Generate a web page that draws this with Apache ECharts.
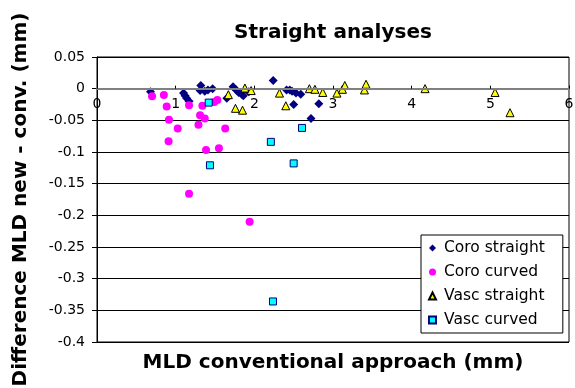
<!DOCTYPE html>
<html><head><meta charset="utf-8">
<script src="https://cdn.jsdelivr.net/npm/echarts@6/dist/echarts.min.js"></script>
<style>html,body{margin:0;padding:0;background:#fff}#c{width:575px;height:388px}</style>
</head><body><div id="c"></div>
<script>
const chartTitle = 'Straight analyses';
const xAxisName = 'MLD conventional approach (mm)';
const yAxisName = 'Difference MLD new - conv. (mm)';
const seriesNames = ['Coro straight', 'Coro curved', 'Vasc straight', 'Vasc curved'];
const xTickInfo = [0, 6, 1];        // min, max, interval
const yTickInfo = [-0.4, 0.05, 0.05];

const coroStraight = [
  [0.68, -0.005], [1.10, -0.007], [1.12, -0.011], [1.14, -0.015], [1.17, -0.020],
  [1.32, 0.005], [1.31, -0.003], [1.37, -0.004], [1.41, -0.002], [1.47, 0.000],
  [1.65, -0.015], [1.73, 0.003], [1.77, -0.002], [1.80, -0.006], [1.84, -0.009], [1.86, -0.011],
  [1.93, -0.005], [2.24, 0.013],
  [2.41, -0.002], [2.45, -0.002], [2.48, -0.004], [2.53, -0.007], [2.59, -0.009],
  [2.50, -0.025], [2.82, -0.024], [2.72, -0.047]
];
const coroCurved = [
  [0.70, -0.012], [0.85, -0.010], [0.886, -0.028], [0.915, -0.049], [1.026, -0.063],
  [0.91, -0.083], [1.17, -0.026], [1.34, -0.027], [1.49, -0.021], [1.53, -0.018],
  [1.31, -0.042], [1.37, -0.047], [1.29, -0.057], [1.63, -0.063],
  [1.386, -0.097], [1.55, -0.094], [1.17, -0.166], [1.94, -0.210]
];
const vascStraight = [
  [1.67, -0.0095], [1.76, -0.031], [1.85, -0.034], [1.88, 0.001], [1.96, -0.003],
  [2.32, -0.007], [2.40, -0.027], [2.70, 0.000], [2.77, -0.001], [2.87, -0.006],
  [3.05, -0.007], [3.12, -0.001], [3.15, 0.005], [3.40, -0.002], [3.42, 0.007],
  [4.17, 0.000], [5.06, -0.006], [5.25, -0.038]
];
const vascCurved = [
  [1.42, -0.022], [1.436, -0.121], [2.21, -0.084], [2.50, -0.118], [2.606, -0.062], [2.237, -0.336]
];

const FF = 'DejaVu Sans';
const chart = echarts.init(document.getElementById('c'), null, {renderer: 'canvas'});
const mk = (name, data, symbol, size, color, border, bw) => ({
  name, type: 'scatter', data, symbol, symbolSize: size,
  itemStyle: {color, borderColor: border, borderWidth: bw, opacity: 1},
  emphasis: {disabled: true}
});
chart.setOption({
  animation: false,
  backgroundColor: '#fff',
  graphic: [
    {type: 'text', x: 333, y: 33, style: {text: chartTitle, fontFamily: FF, fontSize: 20, fontWeight: 'bold', fill: '#000', align: 'center', verticalAlign: 'middle'}},
    {type: 'text', x: 333, y: 363, style: {text: xAxisName, fontFamily: FF, fontSize: 20, fontWeight: 'bold', fill: '#000', align: 'center', verticalAlign: 'middle'}}
  ],
  grid: {left: 97, right: 6, top: 57, bottom: 46, show: true, borderColor: '#000', borderWidth: 1,
    backgroundColor: 'transparent', containLabel: false, outerBoundsMode: 'none'},
  legend: {
    orient: 'vertical', left: 421, top: 235, padding: [5, 18, 5, 7],
    itemWidth: 7, itemHeight: 7, itemGap: 8,
    backgroundColor: '#fff', borderColor: '#000', borderWidth: 1,
    textStyle: {fontFamily: FF, fontSize: 15.5, color: '#000', lineHeight: 14, padding: [0, 0, 0, 3]},
    data: seriesNames
  },
  xAxis: {
    type: 'value', min: xTickInfo[0], max: xTickInfo[1], interval: xTickInfo[2],
    offset: -253.33, z: 5,
    axisLine: {onZero: false, lineStyle: {color: '#808080', width: 2}},
    axisTick: {show: true, inside: true, length: 3, lineStyle: {color: '#000'}},
    axisLabel: {fontFamily: FF, fontSize: 14, color: '#000', margin: 9},
    splitLine: {show: false}
  },
  yAxis: {
    type: 'value', min: yTickInfo[0], max: yTickInfo[1], interval: yTickInfo[2],
    name: yAxisName, nameLocation: 'middle', nameRotate: 90, nameGap: 66,
    nameTextStyle: {fontFamily: FF, fontSize: 20, fontWeight: 'bold', color: '#000'},
    axisLine: {show: true, onZero: false, lineStyle: {color: '#000', width: 1}},
    axisTick: {show: true, length: 5, lineStyle: {color: '#000'}},
    axisLabel: {fontFamily: FF, fontSize: 14, color: '#000', margin: 12,
      formatter: v => String(Math.round(v * 100) / 100)},
    splitLine: {show: true, lineStyle: {color: '#000', width: 1}}
  },
  series: [
    mk(seriesNames[0], coroStraight, 'diamond', 9, '#000080', '#000080', 0),
    mk(seriesNames[1], coroCurved, 'circle', 8, '#FF00FF', '#FF00FF', 0),
    mk(seriesNames[2], vascStraight, 'triangle', 8, '#FFFF00', '#000000', 1),
    mk(seriesNames[3], vascCurved, 'rect', 7, '#00FFFF', '#000080', 1)
  ]
});
</script></body></html>
